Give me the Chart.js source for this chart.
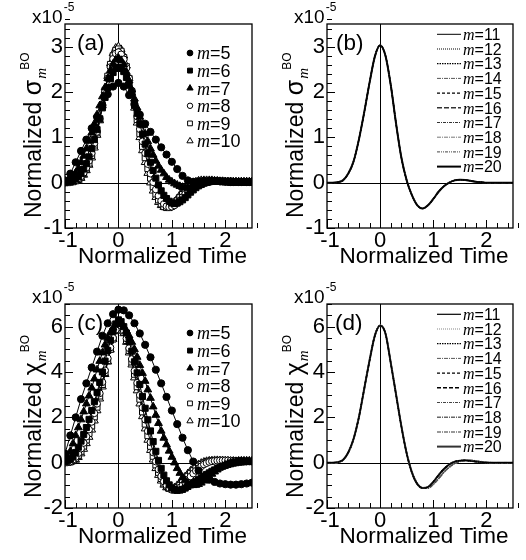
<!DOCTYPE html>
<html><head><meta charset="utf-8">
<script src="https://cdn.jsdelivr.net/npm/chart.js@4.4.1/dist/chart.umd.min.js"></script>
<style>
html,body{margin:0;padding:0;background:#fff;}
#wrap{position:relative;width:526px;height:560px;overflow:hidden;}
canvas{position:absolute;}
</style></head><body>
<div id="wrap">
<canvas id="ca" width="263" height="280" style="left:0;top:0"></canvas>
<canvas id="cb" width="263" height="280" style="left:263px;top:0"></canvas>
<canvas id="cc" width="263" height="280" style="left:0;top:280px"></canvas>
<canvas id="cd" width="263" height="280" style="left:263px;top:280px"></canvas>
</div>
<script>
// ---------- data (normalized time; values in units of 1e-5) ----------
const timeAxis = [-1,-0.9,-0.8,-0.7,-0.6,-0.5,-0.4,-0.3,-0.2,-0.1,0,0.1,0.2,0.3,0.4,0.5,0.6,0.7,0.8,0.9,1,1.1,1.2,1.3,1.4,1.5,1.6,1.7,1.8,1.9,2,2.1,2.2,2.3,2.4,2.5];
const timeFine = [-1,-0.95,-0.9,-0.85,-0.8,-0.75,-0.7,-0.65,-0.6,-0.55,
  -0.5,-0.45,-0.4,-0.35,-0.3,-0.25,-0.2,-0.15,-0.1,-0.05,
  0,0.05,0.1,0.15,0.2,0.25,0.3,0.35,0.4,0.45,
  0.5,0.55,0.6,0.65,0.7,0.75,0.8,0.85,0.9,0.95,
  1,1.05,1.1,1.15,1.2,1.25,1.3,1.35,1.4,1.45,
  1.5,1.55,1.6,1.65,1.7,1.75,1.8,1.85,1.9,1.95,
  2,2.05,2.1,2.15,2.2,2.25,2.3,2.35,2.4,2.45,
  2.5];
const xTicks = [-1,0,1,2];
const yTicksSigma = [-1,0,1,2,3];
const yTicksChi = [-2,0,2,4,6];
const labelsLow = ['m=5','m=6','m=7','m=8','m=9','m=10'];
const labelsHigh = ['m=11','m=12','m=13','m=14','m=15','m=16','m=17','m=18','m=19','m=20'];

// panel (a) sigma, m = 5 (coarse sampling) and m = 6..10 (fine sampling)
const sigmaM5 = [0.05,0.2,0.45,0.7,0.95,1.2,1.45,1.7,1.95,2.12, 2.2,2.12,1.93,1.72,1.5,1.3,1.12,0.95,0.78,0.62, 0.46,0.3,0.15,0.05,0.02,0.03,0.04,0.04,0.04,0.03, 0.03,0.03,0.02,0.02,0.02,0.02];
const sigmaM6 = [0.01,0.02,0.03,0.05,0.08,0.13,0.2,0.3,0.42,0.57,
  0.75,0.95,1.17,1.41,1.65,1.88,2.1,2.29,2.43,2.52,
  2.55,2.52,2.45,2.32,2.15,1.96,1.75,1.53,1.3,1.07,
  0.85,0.64,0.45,0.27,0.1,-0.05,-0.18,-0.28,-0.35,-0.41,
  -0.45,-0.46,-0.45,-0.42,-0.38,-0.33,-0.27,-0.21,-0.16,-0.11,
  -0.07,-0.04,-0.01,0.01,0.02,0.03,0.03,0.03,0.03,0.02,
  0.02,0.02,0.01,0.01,0.01,0.01,0.01,0.01,0.01,0.01,
  0.01];
const sigmaM7 = [0.02,0.04,0.08,0.14,0.22,0.32,0.45,0.59,0.75,0.92,
  1.1,1.3,1.5,1.7,1.9,2.1,2.3,2.48,2.62,2.71,
  2.75,2.7,2.6,2.44,2.25,2.05,1.85,1.65,1.45,1.26,
  1.08,0.91,0.75,0.61,0.48,0.37,0.28,0.2,0.12,0.06,
  0.02,-0.02,-0.05,-0.08,-0.1,-0.11,-0.12,-0.11,-0.1,-0.08,
  -0.06,-0.04,-0.02,-0.01,0.01,0.01,0.02,0.02,0.02,0.02,
  0.02,0.02,0.02,0.02,0.02,0.02,0.02,0.02,0.02,0.02,
  0.02];
const sigmaM8 = [0,0.01,0.02,0.03,0.05,0.09,0.14,0.22,0.33,0.48,
  0.65,0.87,1.12,1.41,1.72,2.02,2.3,2.55,2.73,2.85,
  2.88,2.83,2.72,2.53,2.3,2.03,1.75,1.46,1.18,0.91,
  0.65,0.41,0.2,0.01,-0.15,-0.29,-0.4,-0.47,-0.52,-0.54,
  -0.53,-0.5,-0.45,-0.39,-0.32,-0.25,-0.19,-0.13,-0.08,-0.04,
  -0.01,0.01,0.03,0.04,0.04,0.04,0.04,0.04,0.03,0.03,
  0.02,0.02,0.01,0.01,0.01,0.01,0.01,0.01,0.01,0.01,
  0.01];
const sigmaM9 = [0,0,0.01,0.02,0.04,0.07,0.12,0.2,0.3,0.43,
  0.6,0.83,1.1,1.4,1.72,2.04,2.35,2.61,2.8,2.92,
  2.95,2.9,2.76,2.56,2.3,2.01,1.7,1.39,1.08,0.8,
  0.55,0.31,0.1,-0.09,-0.25,-0.38,-0.47,-0.53,-0.55,-0.55,
  -0.52,-0.47,-0.4,-0.33,-0.26,-0.19,-0.13,-0.08,-0.04,-0.01,
  0.02,0.03,0.04,0.05,0.05,0.05,0.04,0.04,0.03,0.03,
  0.02,0.02,0.01,0.01,0.01,0.01,0.01,0.01,0.01,0.01,
  0.01];
const sigmaM10 = [0,0,0.01,0.02,0.03,0.06,0.1,0.17,0.27,0.39,
  0.55,0.77,1.05,1.37,1.7,2.03,2.35,2.63,2.85,2.97,
  3.0,2.94,2.8,2.58,2.3,1.98,1.65,1.32,1.0,0.71,
  0.45,0.21,0,-0.18,-0.32,-0.43,-0.5,-0.54,-0.55,-0.53,
  -0.48,-0.42,-0.35,-0.27,-0.2,-0.14,-0.08,-0.04,0,0.02,
  0.04,0.05,0.05,0.05,0.05,0.05,0.04,0.04,0.03,0.03,
  0.02,0.02,0.01,0.01,0.01,0.01,0.01,0.01,0.01,0.01,
  0.01];
// panel (b) sigma, m = 11..20 (curves coincide)
const sigmaHigh = [0,0,0.01,0.05,0.2,0.47,0.95,1.55,2.2,2.78, 3.03,2.8,2.15,1.3,0.55,0.05,-0.28,-0.5,-0.57,-0.5, -0.36,-0.2,-0.08,0,0.05,0.065,0.06,0.04,0.02,0.01, 0,0,0,0,0,0];
// panel (c) chi, m = 5 (coarse) and m = 6..10 (fine)
const chiM5 = [0.4,1.2,2.0,2.8,3.5,4.2,4.9,5.6,6.15,6.55, 6.75,6.72,6.5,6.15,5.7,5.2,4.65,4.1,3.5,2.9, 2.3,1.7,1.1,0.55,0.05,-0.35,-0.6,-0.75,-0.85,-0.92, -0.95,-0.97,-0.97,-0.95,-0.92,-0.88];
const chiM6 = [0.05,0.09,0.15,0.27,0.45,0.68,0.95,1.24,1.55,1.91,
  2.3,2.69,3.1,3.54,4.0,4.48,4.95,5.4,5.8,6.12,
  6.3,6.22,6.0,5.72,5.35,4.92,4.45,3.96,3.45,2.92,
  2.4,1.89,1.4,0.93,0.5,0.1,-0.25,-0.55,-0.8,-0.98,
  -1.12,-1.19,-1.22,-1.21,-1.18,-1.12,-1.05,-0.98,-0.9,-0.82,
  -0.75,-0.67,-0.6,-0.52,-0.45,-0.38,-0.32,-0.26,-0.2,-0.16,
  -0.12,-0.08,-0.05,-0.02,0,0.02,0.03,0.04,0.05,0.05,
  0.05];
const chiM7 = [0.1,0.27,0.5,0.84,1.2,1.55,1.9,2.25,2.6,2.95,
  3.3,3.7,4.1,4.48,4.85,5.2,5.5,5.75,5.95,6.1,
  6.15,6.1,6.0,5.82,5.6,5.32,5.0,4.66,4.3,3.95,
  3.6,3.22,2.85,2.47,2.1,1.74,1.4,1.09,0.8,0.52,
  0.25,0,-0.25,-0.46,-0.65,-0.79,-0.9,-0.97,-1.0,-0.99,
  -0.95,-0.89,-0.8,-0.7,-0.6,-0.5,-0.4,-0.31,-0.22,-0.16,
  -0.1,-0.05,0,0.03,0.05,0.07,0.08,0.08,0.08,0.08,
  0.08];
const chiM8 = [0,0.02,0.05,0.13,0.25,0.42,0.62,0.87,1.15,1.46,
  1.8,2.18,2.6,3.06,3.55,4.07,4.6,5.08,5.5,5.86,
  6.1,6.03,5.82,5.48,5.05,4.57,4.05,3.52,2.98,2.43,
  1.9,1.39,0.9,0.45,0.05,-0.3,-0.6,-0.83,-1.0,-1.12,
  -1.2,-1.21,-1.18,-1.1,-1.0,-0.88,-0.75,-0.61,-0.48,-0.36,
  -0.25,-0.16,-0.08,-0.02,0.03,0.06,0.08,0.09,0.1,0.1,
  0.1,0.1,0.09,0.09,0.08,0.08,0.07,0.07,0.06,0.06,
  0.05];
const chiM9 = [0,0.01,0.03,0.09,0.18,0.32,0.5,0.73,1.0,1.29,
  1.62,2.02,2.45,2.94,3.45,3.98,4.5,5.0,5.45,5.82,
  6.05,5.97,5.75,5.39,4.95,4.44,3.9,3.35,2.8,2.24,
  1.7,1.19,0.72,0.28,-0.1,-0.43,-0.7,-0.9,-1.05,-1.14,
  -1.18,-1.16,-1.1,-1.0,-0.88,-0.74,-0.6,-0.47,-0.35,-0.24,
  -0.15,-0.08,-0.02,0.02,0.06,0.08,0.09,0.1,0.1,0.1,
  0.09,0.09,0.08,0.08,0.07,0.07,0.06,0.06,0.05,0.05,
  0.05];
const chiM10 = [0,0.01,0.02,0.06,0.12,0.24,0.4,0.6,0.85,1.13,
  1.45,1.85,2.3,2.82,3.35,3.9,4.45,4.98,5.45,5.8,
  6.0,5.92,5.7,5.32,4.85,4.32,3.75,3.18,2.6,2.04,
  1.5,1.0,0.55,0.13,-0.25,-0.55,-0.8,-0.98,-1.1,-1.15,
  -1.15,-1.1,-1.0,-0.88,-0.75,-0.61,-0.48,-0.36,-0.25,-0.16,
  -0.08,-0.02,0.03,0.06,0.08,0.09,0.1,0.1,0.09,0.09,
  0.08,0.08,0.07,0.07,0.06,0.06,0.05,0.05,0.05,0.05,
  0.05];
// panel (d) chi, m = 11..20
const chiHigh     = [0,0,0.02,0.12,0.45,1.05,2.0,3.25,4.5,5.6, 6.05,5.7,4.4,3.0,1.6,0.4,-0.45,-0.95,-1.12,-1.08, -0.85,-0.55,-0.28,-0.08,0.04,0.09,0.1,0.08,0.05,0.02, 0,0,0,0,0,0];
const chiHighLate = [0,0,0.02,0.12,0.45,1.05,2.0,3.25,4.5,5.6, 6.05,5.7,4.4,3.0,1.6,0.42,-0.42,-0.92,-1.12,-1.12, -0.95,-0.7,-0.42,-0.2,-0.04,0.06,0.1,0.1,0.07,0.04, 0.02,0,0,0,0,0];

// ---------- styling ----------
const FONT = '"Liberation Sans", Arial, Helvetica, sans-serif';
const SERIF = '"Liberation Serif", "Times New Roman", serif';
const markerStyles = [
  {pointStyle:'circle',   bg:'#000', r:3.6},
  {pointStyle:'rect',     bg:'#000', r:4.3},
  {pointStyle:'triangle', bg:'#000', r:4.5},
  {pointStyle:'circle',   bg:'#fff', r:3.4},
  {pointStyle:'rect',     bg:'#fff', r:4.2},
  {pointStyle:'triangle', bg:'#fff', r:4.5}
];
const lineStylesB = [
  {dash:[], w:1, c:'#000'}, {dash:[1,1], w:1, c:'#000'}, {dash:[1.5,1], w:1.2, c:'#000'},
  {dash:[4,1,1,1], w:1, c:'#555'}, {dash:[3,2], w:1.2, c:'#000'}, {dash:[5,2], w:1.5, c:'#333'},
  {dash:[3,1,1,1], w:1.2, c:'#333'}, {dash:[4,1,1,1], w:1, c:'#777'}, {dash:[3,1,1,1,1,1], w:1, c:'#444'},
  {dash:[], w:2, c:'#000'}
];
const lineStylesD = [
  {dash:[], w:1.2, c:'#000'}, {dash:[1,1], w:1.2, c:'#888'}, {dash:[1.5,1], w:1.2, c:'#000'},
  {dash:[4,1,1,1], w:1, c:'#555'}, {dash:[3,2], w:1.2, c:'#000'}, {dash:[4,2], w:1.5, c:'#000'},
  {dash:[3,1,1,1], w:1.2, c:'#444'}, {dash:[4,1,1,1], w:1.5, c:'#666'}, {dash:[4,1,1,1], w:2, c:'#999'},
  {dash:[], w:2, c:'#333'}
];

function pts(vals){
  const t = vals.length === timeFine.length ? timeFine : timeAxis;
  return t.map((x,i)=>({x:x, y:vals[i]}));
}
function markerSets(list){
  return list.map((vals,i)=>({
    label: labelsLow[i], data: pts(vals), showLine:true,
    borderColor:'#000', borderWidth:1,
    pointStyle: markerStyles[i].pointStyle, pointRadius: markerStyles[i].r,
    pointBackgroundColor: markerStyles[i].bg, pointBorderColor:'#000', pointBorderWidth:1
  }));
}
function lineSets(list, styles){
  return list.map((vals,i)=>({
    label: labelsHigh[i], data: pts(vals), showLine:true,
    borderColor: styles[i].c, borderWidth: styles[i].w, borderDash: styles[i].dash,
    pointRadius:0, cubicInterpolationMode:'monotone'
  }));
}
function fmt(v){ return v<0 ? '-'+Math.abs(v) : String(v); }

function makeDecor(p){
  return {
    id:'decor',
    beforeDatasetsDraw(chart){
      const ctx=chart.ctx, a=chart.chartArea, xs=chart.scales.x, ys=chart.scales.y;
      ctx.save();
      ctx.strokeStyle='#000'; ctx.lineWidth=1;
      const x0=Math.round(xs.getPixelForValue(0))+0.5, y0=Math.round(ys.getPixelForValue(0))+0.5;
      ctx.beginPath();
      ctx.moveTo(x0,a.top); ctx.lineTo(x0,a.bottom);
      ctx.moveTo(a.left,y0); ctx.lineTo(a.right,y0);
      ctx.stroke();
      ctx.beginPath();
      const nx=Math.round((xs.max-xs.min)/0.2);
      for(let k=0;k<=nx;k++){
        const v=xs.min+k*0.2; const major=Math.abs(v-Math.round(v))<1e-6;
        const px=Math.round(xs.getPixelForValue(v))+0.5;
        ctx.moveTo(px,a.bottom); ctx.lineTo(px,a.bottom-(major?8:5));
      }
      const ny=Math.round((ys.max-ys.min)/p.yMinor);
      for(let k=0;k<=ny;k++){
        const v=ys.min+k*p.yMinor; const major=p.yTicks.some(t=>Math.abs(t-v)<1e-6);
        const py=Math.round(ys.getPixelForValue(v))+0.5;
        ctx.moveTo(a.left,py); ctx.lineTo(a.left+(major?8:5),py);
      }
      ctx.stroke();
      ctx.restore();
    },
    afterDraw(chart){
      const ctx=chart.ctx, a=chart.chartArea, xs=chart.scales.x;
      ctx.save();
      ctx.strokeStyle='#000'; ctx.lineWidth=1.3; ctx.setLineDash([]);
      ctx.strokeRect(a.left, a.top, a.right-a.left, a.bottom-a.top);
      // legend
      const L=p.legend;
      chart.data.datasets.forEach((ds,i)=>{
        const cy=L.y0+i*L.dy;
        if(L.type==='marker'){
          ctx.fillStyle=ds.pointBackgroundColor; ctx.strokeStyle=ds.pointBorderColor; ctx.lineWidth=ds.pointBorderWidth;
          Chart.helpers.drawPoint(ctx,{pointStyle:ds.pointStyle,radius:ds.pointRadius*0.8,rotation:0,borderWidth:ds.pointBorderWidth},L.mx,cy);
        } else {
          ctx.setLineDash(ds.borderDash||[]); ctx.lineWidth=ds.borderWidth; ctx.strokeStyle=ds.borderColor;
          ctx.beginPath(); ctx.moveTo(L.lx0,cy); ctx.lineTo(L.lx1,cy); ctx.stroke(); ctx.setLineDash([]);
        }
        const parts=ds.label.split('=');
        ctx.fillStyle='#000'; ctx.textAlign='left'; ctx.textBaseline='alphabetic';
        const base=cy+L.fs*0.36;
        ctx.font='italic '+L.fs+'px '+SERIF; ctx.fillText(parts[0],L.tx,base);
        const w=ctx.measureText(parts[0]).width;
        ctx.font=L.fs+'px '+FONT; ctx.fillText('='+parts[1],L.tx+w,base);
      });
      ctx.fillStyle='#000'; ctx.textBaseline='alphabetic';
      // x tick labels (through the x scale)
      ctx.font='22px '+FONT; ctx.textAlign='center';
      xTicks.forEach(v=>{
        const px=xs.getPixelForValue(v)+(v===xs.min?3:0);
        ctx.fillText(fmt(v),px,247);
      });
      // panel letter
      ctx.textAlign='left';
      ctx.font='22.5px '+FONT; ctx.fillText(p.letter, a.left+p.letterDx, 50);
      // x10^-5
      ctx.font='19px '+FONT; ctx.fillText('x10', a.left-33, 23);
      const wx=ctx.measureText('x10').width;
      ctx.font='12px '+FONT; ctx.fillText('-5', a.left-33+wx+1, 11);
      // x title
      ctx.font='22.5px '+FONT; ctx.textAlign='center';
      ctx.fillText('Normalized Time', (a.left+a.right)/2+4, 263);
      // y title
      ctx.translate(a.left-24, 218); ctx.rotate(-Math.PI/2);
      ctx.textAlign='left';
      ctx.font='23px '+FONT; ctx.fillText('Normalized ',0,0);
      let wm=ctx.measureText('Normalized ').width;
      ctx.font='25px '+FONT; ctx.fillText(p.sym,wm,0);
      wm+=ctx.measureText(p.sym).width;
      ctx.font='italic 15px '+SERIF; ctx.fillText('m', wm+1, 5);
      ctx.font='12px '+FONT; ctx.fillText('BO', wm+10, -12);
      ctx.restore();
    }
  };
}

function makeChart(id,p){
  return new Chart(document.getElementById(id),{
    type:'line',
    data:{datasets:p.datasets},
    options:{
      responsive:false, animation:false, devicePixelRatio:1,
      layout:{padding:{top:p.area.top,right:263-p.area.right,left:0,bottom:0}},
      plugins:{legend:{display:false},tooltip:{enabled:false}},
      scales:{
        x:{type:'linear',min:-1,max:2.5,
           grid:{display:false,drawTicks:false},border:{display:false},
           afterBuildTicks:s=>{s.ticks=xTicks.map(v=>({value:v}));},
           afterFit:s=>{s.height=280-p.area.bottom;},
           ticks:{display:false}},
        y:{type:'linear',min:p.ymin,max:p.ymax,
           grid:{display:false,drawTicks:false},border:{display:false},
           afterBuildTicks:s=>{s.ticks=p.yTicks.map(v=>({value:v}));},
           afterFit:s=>{s.width=p.area.left;},
           ticks:{font:{family:FONT,size:22},color:'#000',padding:2,autoSkip:false,callback:v=>fmt(v)}}
      }
    },
    plugins:[makeDecor(p)]
  });
}

const legMarker={type:'marker',mx:190,tx:197,y0:53,dy:17.6,fs:18};
const legLine={type:'line',lx0:174,lx1:198,tx:200,y0:34.3,dy:14.7,fs:16};

makeChart('ca',{area:{left:65,top:24,right:252,bottom:228},ymin:-1,ymax:3.5,yTicks:yTicksSigma,yMinor:0.2,
  letter:'(a)',letterDx:12,sym:'σ',legend:legMarker,
  datasets:markerSets([sigmaM5,sigmaM6,sigmaM7,sigmaM8,sigmaM9,sigmaM10])});
makeChart('cb',{area:{left:64,top:24,right:250,bottom:228},ymin:-1,ymax:3.5,yTicks:yTicksSigma,yMinor:0.2,
  letter:'(b)',letterDx:9,sym:'σ',legend:legLine,
  datasets:lineSets([sigmaHigh,sigmaHigh,sigmaHigh,sigmaHigh,sigmaHigh,sigmaHigh,sigmaHigh,sigmaHigh,sigmaHigh,sigmaHigh],lineStylesB)});
makeChart('cc',{area:{left:65,top:24,right:252,bottom:228},ymin:-2,ymax:7,yTicks:yTicksChi,yMinor:0.5,
  letter:'(c)',letterDx:12,sym:'χ',legend:legMarker,
  datasets:markerSets([chiM5,chiM6,chiM7,chiM8,chiM9,chiM10])});
makeChart('cd',{area:{left:64,top:24,right:250,bottom:228},ymin:-2,ymax:7,yTicks:yTicksChi,yMinor:0.5,
  letter:'(d)',letterDx:8,sym:'χ',legend:legLine,
  datasets:lineSets([chiHigh,chiHigh,chiHigh,chiHigh,chiHigh,chiHigh,chiHighLate,chiHighLate,chiHighLate,chiHigh],lineStylesD)});
</script>
</body></html>
